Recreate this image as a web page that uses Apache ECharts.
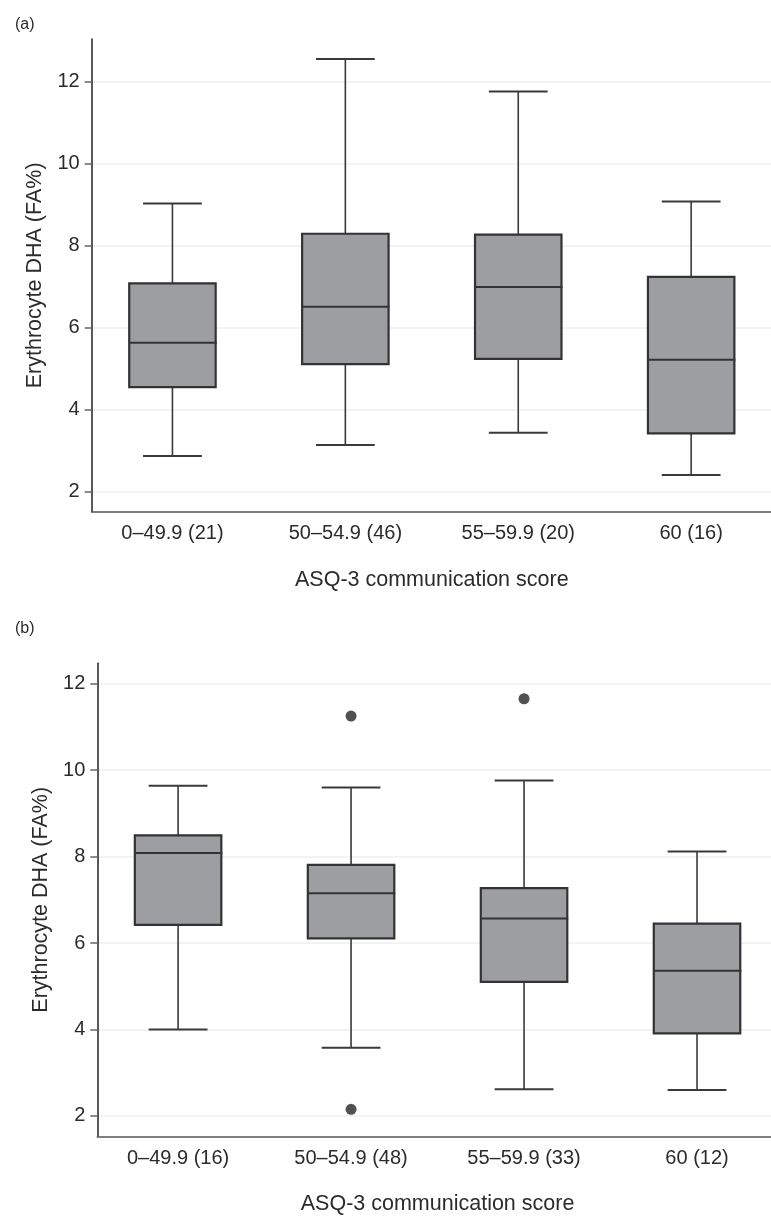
<!DOCTYPE html>
<html><head><meta charset="utf-8">
<script src="https://cdn.jsdelivr.net/npm/echarts@6/dist/echarts.min.js"></script>
<style>html,body{margin:0;padding:0;background:#fff}#c{width:771px;height:1219px}</style>
</head><body><div id="c"></div>
<script>
// ---- data ----
const categoriesA = ['0–49.9 (21)', '50–54.9 (46)', '55–59.9 (20)', '60 (16)'];
// [min, Q1, median, Q3, max]
const statsA = [
  [2.87, 4.55, 5.63, 7.08, 9.03],
  [3.14, 5.11, 6.51, 8.29, 12.55],
  [3.44, 5.24, 6.99, 8.27, 11.76],
  [2.41, 3.42, 5.22, 7.24, 9.08]
];
const categoriesB = ['0–49.9 (16)', '50–54.9 (48)', '55–59.9 (33)', '60 (12)'];
const statsB = [
  [4.00, 6.42, 8.08, 8.49, 9.64],
  [3.58, 6.11, 7.15, 7.81, 9.60],
  [2.62, 5.10, 6.57, 7.27, 9.76],
  [2.60, 3.91, 5.36, 6.45, 8.12]
];
// [category position (1-based), value]
const outliersB = [[2, 11.25], [2, 2.155], [3, 11.65]];
const yTicks = [2, 4, 6, 8, 10, 12];
const catPositions = [1, 2, 3, 4];
const panelLabels = ['(a)', '(b)'];
const xName = 'ASQ-3 communication score';
const yName = 'Erythrocyte DHA (FA%)';

// ---- build ----
const FONT = 'Liberation Sans, Arial, Helvetica, sans-serif';
const TXT = '#2b2b2b';
const FS = 20;
const FSN = 21.5;

function boxData(stats) { return stats.map((s, i) => [catPositions[i], ...s]); }

function renderBox(params, api) {
  const x = api.value(0);
  const lo = api.coord([x, api.value(1)]);
  const q1 = api.coord([x, api.value(2)]);
  const md = api.coord([x, api.value(3)]);
  const q3 = api.coord([x, api.value(4)]);
  const hi = api.coord([x, api.value(5)]);
  const bw = api.size([0.5, 0])[0];
  const cw = api.size([0.34, 0])[0];
  const cx = md[0];
  const ws = { stroke: '#3a3a3a', lineWidth: 1.6 };
  return {
    type: 'group',
    children: [
      { type: 'line', shape: { x1: cx, y1: hi[1], x2: cx, y2: q3[1] }, style: ws },
      { type: 'line', shape: { x1: cx, y1: q1[1], x2: cx, y2: lo[1] }, style: ws },
      { type: 'line', shape: { x1: cx - cw / 2, y1: hi[1], x2: cx + cw / 2, y2: hi[1] }, style: { stroke: '#3a3a3a', lineWidth: 2 } },
      { type: 'line', shape: { x1: cx - cw / 2, y1: lo[1], x2: cx + cw / 2, y2: lo[1] }, style: { stroke: '#3a3a3a', lineWidth: 2 } },
      { type: 'rect', shape: { x: cx - bw / 2, y: q3[1], width: bw, height: q1[1] - q3[1] },
        style: { fill: '#9d9ea2', stroke: '#333333', lineWidth: 2.2 } },
      { type: 'line', shape: { x1: cx - bw / 2, y1: md[1], x2: cx + bw / 2 + 1, y2: md[1] }, style: { stroke: '#333333', lineWidth: 2 } }
    ]
  };
}

function xAxisFor(gi, cats) {
  return {
    type: 'value', gridIndex: gi, min: 0.533, max: 4.467,
    name: xName, nameLocation: 'middle', nameGap: 57,
    nameTextStyle: { fontFamily: FONT, fontSize: FSN, color: TXT },
    axisLine: { show: true, onZero: false, lineStyle: { color: '#555', width: 1.6 } },
    axisTick: { show: false },
    splitLine: { show: false },
    axisLabel: {
      customValues: catPositions, margin: 12,
      fontFamily: FONT, fontSize: FS, color: TXT,
      formatter: v => cats[Math.round(v) - 1]
    }
  };
}
function yAxisFor(gi, min, max) {
  return {
    type: 'value', gridIndex: gi, min: min, max: max,
    name: yName, nameLocation: 'middle', nameGap: 45, nameRotate: 90,
    nameTextStyle: { fontFamily: FONT, fontSize: FSN, color: TXT },
    axisLine: { show: true, lineStyle: { color: '#222', width: 1.5 } },
    axisTick: { show: true, customValues: yTicks, length: 7, lineStyle: { color: '#666', width: 1.5 } },
    splitLine: { show: true, lineStyle: { color: '#efefef', width: 1.5 } },
    axisLabel: { customValues: yTicks, margin: 12, fontFamily: FONT, fontSize: FS, color: TXT }
  };
}

const option = {
  backgroundColor: '#fff',
  animation: false,
  title: [
    { text: panelLabels[0], left: 10, top: 12, textStyle: { fontFamily: FONT, fontSize: 16, fontWeight: 'normal', color: TXT } },
    { text: panelLabels[1], left: 10, top: 616, textStyle: { fontFamily: FONT, fontSize: 16, fontWeight: 'normal', color: TXT } }
  ],
  grid: [
    { left: 91.7, top: 39, width: 680.2, height: 472.7, containLabel: false, outerBoundsMode: 'none' },
    { left: 97.3, top: 663.3, width: 680.5, height: 473, containLabel: false, outerBoundsMode: 'none' }
  ],
  xAxis: [xAxisFor(0, categoriesA), xAxisFor(1, categoriesB)],
  yAxis: [yAxisFor(0, 1.512, 13.04), yAxisFor(1, 1.53, 12.47)],
  series: [
    { type: 'custom', xAxisIndex: 0, yAxisIndex: 0, renderItem: renderBox,
      encode: { x: 0, y: [1, 2, 3, 4, 5] }, data: boxData(statsA) },
    { type: 'custom', xAxisIndex: 1, yAxisIndex: 1, renderItem: renderBox,
      encode: { x: 0, y: [1, 2, 3, 4, 5] }, data: boxData(statsB) },
    { type: 'scatter', xAxisIndex: 1, yAxisIndex: 1, data: outliersB,
      symbol: 'circle', symbolSize: 11, itemStyle: { color: '#262626' } }
  ]
};
const chart = echarts.init(document.getElementById('c'), null, { renderer: 'canvas' });
chart.setOption(option);
</script></body></html>
